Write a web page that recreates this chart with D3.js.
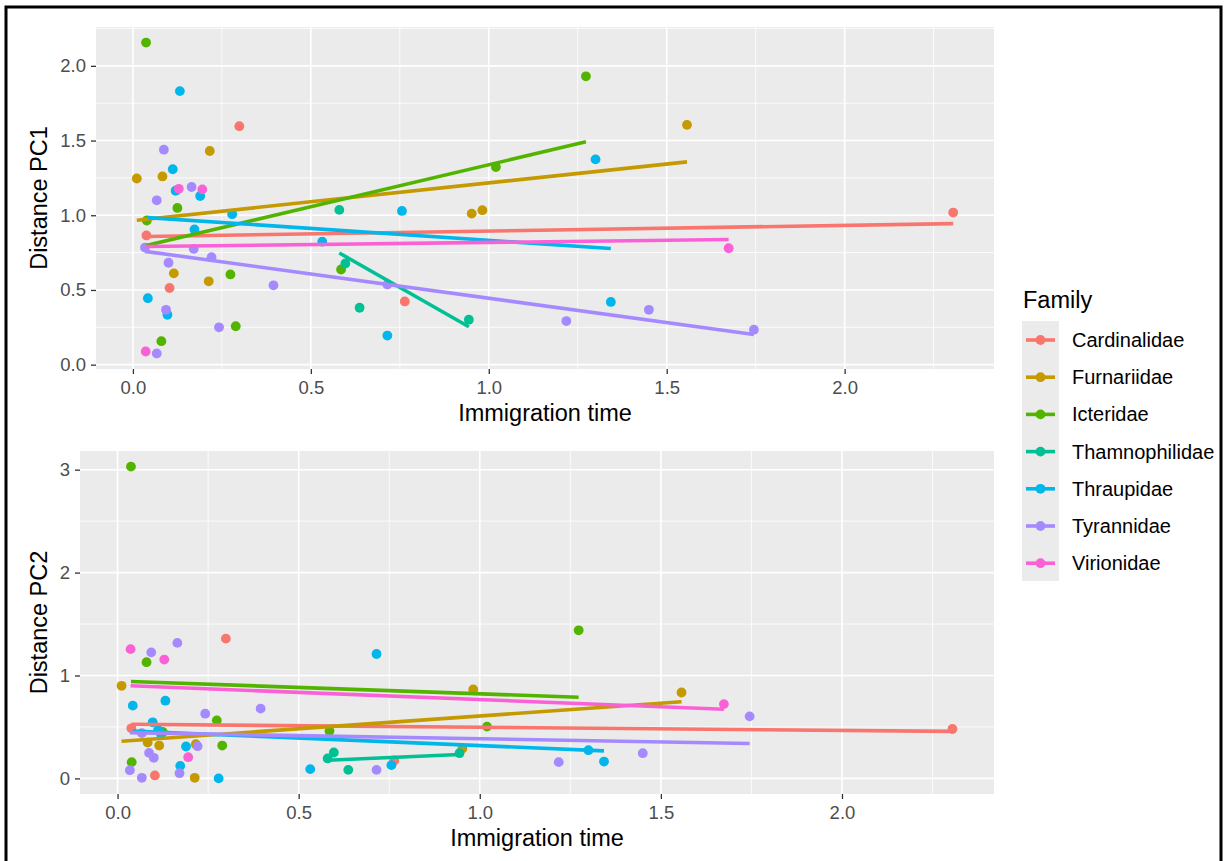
<!DOCTYPE html>
<html>
<head>
<meta charset="utf-8">
<script src="https://cdn.jsdelivr.net/npm/d3@7"></script>
<style>
  body { margin: 0; background: #fff; }
  svg { font-family: "Liberation Sans", Arial, sans-serif; }
</style>
</head>
<body>
<div id="chart"></div>
<script>
// families and ggplot hue colours
var families = ["Cardinalidae", "Furnariidae", "Icteridae", "Thamnophilidae", "Thraupidae", "Tyrannidae", "Virionidae"];
var familyColors = ["#F8766D", "#C49A00", "#53B400", "#00C094", "#00B6EB", "#A58AFF", "#FB61D7"];

// immigration time / distance on PC1 / distance on PC2, one array per family
var cardX   = [0.038, 0.103, 0.299, 0.764, 2.305];
var cardPC1 = [0.865, 0.513, 1.596, 0.423, 1.018];
var cardPC2 = [0.487, 0.029, 1.358, 0.174, 0.480];

var furnX   = [0.011, 0.083, 0.115, 0.213, 0.216, 0.952, 0.982, 1.557];
var furnPC1 = [1.246, 1.260, 0.611, 0.558, 1.430, 1.011, 1.034, 1.605];
var furnPC2 = [0.900, 0.348, 0.319, 0.006, 0.332, 0.290, 0.864, 0.835];

var ictX   = [0.037, 0.039, 0.080, 0.125, 0.274, 0.289, 0.585, 1.020, 1.273];
var ictPC1 = [2.156, 0.965, 0.157, 1.049, 0.604, 0.257, 0.637, 1.323, 1.930];
var ictPC2 = [3.030, 0.158, 1.129, 0.451, 0.564, 0.319, 0.461, 0.503, 1.439];

var thamX   = [0.580, 0.597, 0.637, 0.944];
var thamPC1 = [1.036, 0.677, 0.381, 0.301];
var thamPC2 = [0.194, 0.252, 0.083, 0.245];

var thrX   = [0.042, 0.097, 0.112, 0.120, 0.132, 0.173, 0.189, 0.279, 0.532, 0.715, 0.756, 1.300, 1.343];
var thrPC1 = [0.445, 0.334, 1.308, 1.164, 1.831, 0.905, 1.129, 1.007, 0.823, 0.195, 1.029, 1.374, 0.420];
var thrPC2 = [0.707, 0.545, 0.470, 0.430, 0.755, 0.122, 0.310, 0.000, 0.090, 1.209, 0.129, 0.274, 0.164];

var tyrX   = [0.034, 0.067, 0.067, 0.087, 0.093, 0.100, 0.165, 0.171, 0.221, 0.242, 0.395, 0.715, 1.218, 1.450, 1.745];
var tyrPC1 = [0.784, 0.075, 1.100, 1.439, 0.367, 0.682, 1.189, 0.775, 0.719, 0.250, 0.531, 0.537, 0.292, 0.367, 0.234];
var tyrPC2 = [0.080, 0.006, 0.440, 0.248, 1.225, 0.200, 1.317, 0.051, 0.313, 0.629, 0.678, 0.083, 0.158, 0.245, 0.603];

var virX   = [0.036, 0.129, 0.195, 1.674];
var virPC1 = [0.088, 1.177, 1.173, 0.779];
var virPC2 = [1.256, 1.155, 0.206, 0.722];

var xTicks = [0, 0.5, 1, 1.5, 2];
var pc1Ticks = [0, 0.5, 1, 1.5, 2];
var pc2Ticks = [0, 1, 2, 3];

var groups = [
  [cardX, cardPC1, cardPC2], [furnX, furnPC1, furnPC2], [ictX, ictPC1, ictPC2],
  [thamX, thamPC1, thamPC2], [thrX, thrPC1, thrPC2], [tyrX, tyrPC1, tyrPC2], [virX, virPC1, virPC2]
];

var data = [];
groups.forEach(function (g, i) {
  g[0].forEach(function (x, j) {
    data.push({ family: families[i], x: x, pc1: g[1][j], pc2: g[2][j] });
  });
});

var color = d3.scaleOrdinal().domain(families).range(familyColors);

var W = 1226, H = 861;
var svg = d3.select("#chart").append("svg")
  .attr("width", W)
  .attr("height", H);

svg.append("rect").attr("width", W).attr("height", H).attr("fill", "#fff");

// ggplot style 5% expansion
const expand = (ext) => {
  var pad = (ext[1] - ext[0]) * 0.05;
  return [ext[0] - pad, ext[1] + pad];
}

// least squares line across a group's x range
const lmFit = (xs, ys) => {
  var mx = d3.mean(xs), my = d3.mean(ys);
  var sxy = d3.sum(xs, (x, i) => (x - mx) * (ys[i] - my));
  var sxx = d3.sum(xs, x => (x - mx) * (x - mx));
  var b = sxy / sxx, a = my - b * mx;
  var x0 = d3.min(xs), x1 = d3.max(xs);
  return [{ x: x0, y: a + b * x0 }, { x: x1, y: a + b * x1 }];
}

const drawPanel = (p) => {
  var g = svg.append("g").attr("transform", "translate(" + p.left + "," + p.top + ")");
  var w = p.width, h = p.height;

  var x = d3.scaleLinear().domain(expand(d3.extent(data, d => d.x))).range([0, w]);
  var y = d3.scaleLinear().domain(expand(d3.extent(data, d => d[p.key]))).range([h, 0]);

  g.append("rect").attr("width", w).attr("height", h).attr("fill", "#EBEBEB");

  // minor grid
  var xMinor = xTicks.map(t => t + 0.25).filter(t => t < x.domain()[1]);
  var yStep = p.ticks[1] - p.ticks[0];
  var yMinor = p.ticks.map(t => t + yStep / 2).filter(t => t < y.domain()[1]);
  g.selectAll(".xminor").data(xMinor).enter().append("line")
    .attr("x1", d => x(d)).attr("x2", d => x(d)).attr("y1", 0).attr("y2", h)
    .attr("stroke", "#fff").attr("stroke-width", 0.8);
  g.selectAll(".yminor").data(yMinor).enter().append("line")
    .attr("y1", d => y(d)).attr("y2", d => y(d)).attr("x1", 0).attr("x2", w)
    .attr("stroke", "#fff").attr("stroke-width", 0.8);

  // major grid
  g.selectAll(".xmajor").data(xTicks).enter().append("line")
    .attr("x1", d => x(d)).attr("x2", d => x(d)).attr("y1", 0).attr("y2", h)
    .attr("stroke", "#fff").attr("stroke-width", 1.6);
  g.selectAll(".ymajor").data(p.ticks).enter().append("line")
    .attr("y1", d => y(d)).attr("y2", d => y(d)).attr("x1", 0).attr("x2", w)
    .attr("stroke", "#fff").attr("stroke-width", 1.6);

  // axes
  var xAxis = g.append("g").attr("transform", "translate(0," + h + ")")
    .call(d3.axisBottom(x).tickValues(xTicks).tickFormat(d3.format(".1f")).tickSize(5).tickPadding(7));
  var yAxis = g.append("g")
    .call(d3.axisLeft(y).tickValues(p.ticks).tickFormat(p.fmt).tickSize(5).tickPadding(5));
  [xAxis, yAxis].forEach(a => {
    a.select(".domain").remove();
    a.selectAll("line").attr("stroke", "#333").attr("stroke-width", 1.3);
    a.selectAll("text").attr("fill", "#4D4D4D").style("font-size", "18.5px")
      .style("font-family", "'Liberation Sans', Arial, sans-serif");
  });

  // points
  g.selectAll("circle").data(data).enter().append("circle")
    .attr("cx", d => x(d.x))
    .attr("cy", d => y(d[p.key]))
    .attr("r", 4.9)
    .attr("fill", d => color(d.family));

  // fitted lines
  groups.forEach(function (gr, i) {
    var fit = lmFit(gr[0], gr[p.key === "pc1" ? 1 : 2]);
    g.append("path")
      .datum(fit)
      .attr("d", d3.line().x(d => x(d.x)).y(d => y(d.y)))
      .attr("fill", "none")
      .attr("stroke", familyColors[i])
      .attr("stroke-width", 3.6);
  });

  // titles
  g.append("text")
    .attr("x", w / 2).attr("y", h + 52)
    .attr("text-anchor", "middle")
    .style("font-size", "23.5px").attr("fill", "#000")
    .text("Immigration time");
  g.append("text")
    .attr("transform", "translate(" + (47 - p.left) + "," + (h / 2) + ") rotate(-90)")
    .attr("text-anchor", "middle")
    .style("font-size", "23.5px").attr("fill", "#000")
    .text(p.title);
}

drawPanel({ left: 96, top: 27, width: 898, height: 342, key: "pc1", ticks: pc1Ticks, fmt: d3.format(".1f"), title: "Distance PC1" });
drawPanel({ left: 80, top: 451, width: 914, height: 343, key: "pc2", ticks: pc2Ticks, fmt: d3.format("d"), title: "Distance PC2" });

// legend
var legend = svg.append("g").attr("transform", "translate(1022,0)");
legend.append("text").attr("x", 1).attr("y", 308)
  .style("font-size", "23.5px").attr("fill", "#000").text("Family");
legend.append("rect").attr("x", 0).attr("y", 321).attr("width", 37).attr("height", 260).attr("fill", "#EBEBEB");
var items = legend.selectAll(".item").data(families).enter().append("g")
  .attr("transform", (d, i) => "translate(0," + (340 + i * 37.2) + ")");
items.append("line").attr("x1", 4).attr("x2", 33).attr("y1", 0).attr("y2", 0)
  .attr("stroke", d => color(d)).attr("stroke-width", 3.6);
items.append("circle").attr("cx", 18.5).attr("cy", 0).attr("r", 4.9).attr("fill", d => color(d));
items.append("text").attr("x", 50).attr("y", 7)
  .style("font-size", "20px").attr("fill", "#000").text(d => d);

// outer frame
svg.append("rect").attr("x", 6).attr("y", 7).attr("width", 1215).attr("height", 870)
  .attr("fill", "none").attr("stroke", "#000").attr("stroke-width", 3);
</script>
</body>
</html>
